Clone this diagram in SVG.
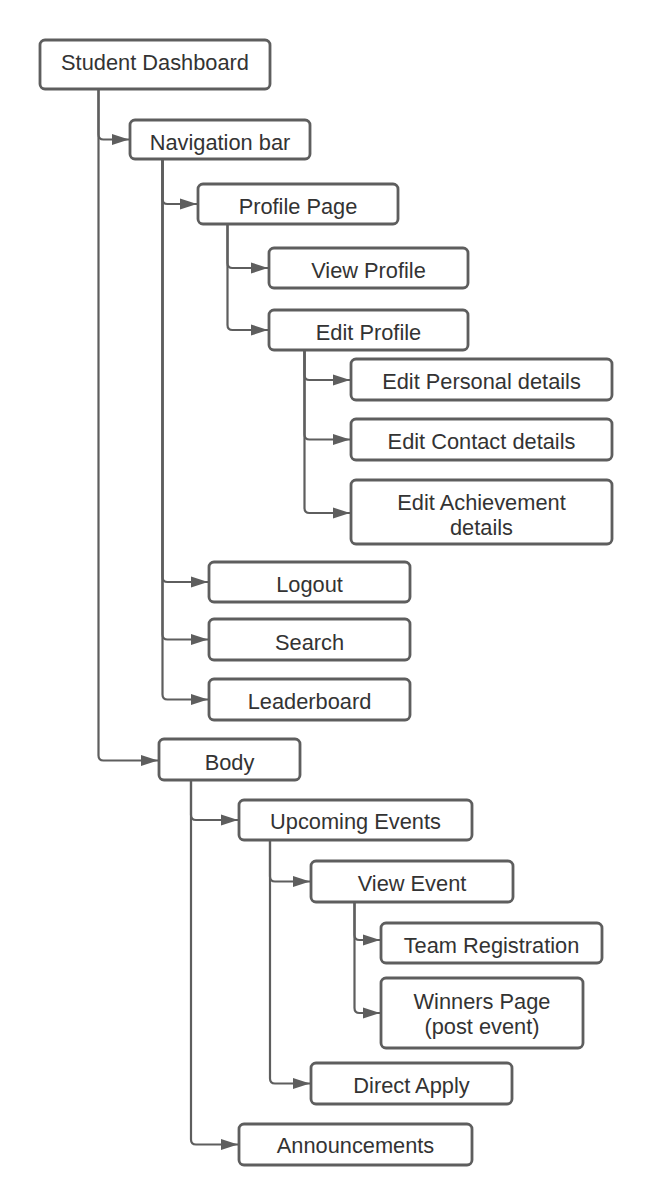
<svg xmlns="http://www.w3.org/2000/svg" width="652" height="1204" viewBox="0 0 652 1204">
<style>
.n rect{fill:#fff;stroke:#5e5e5e;stroke-width:2.8}
.n text{font-family:"Liberation Sans",Arial,sans-serif;font-size:21.8px;fill:#333;text-anchor:middle}
#connectors path{fill:none;stroke:#5e5e5e;stroke-width:2.2;marker-end:url(#ah)}
</style>
<defs>
<marker id="ah" markerUnits="userSpaceOnUse" markerWidth="17" markerHeight="12" refX="17" refY="6" orient="auto">
<path d="M0,0.5 L17,6 L0,11.5 z" fill="#5e5e5e"/>
</marker>
</defs>
<rect width="652" height="1204" fill="#fff"/>
<g id="connectors">
<path d="M98.5,89 V134.5 Q98.5,139.5 103.5,139.5 H129"/>
<path d="M98.5,89 V755.5 Q98.5,760.5 103.5,760.5 H158"/>
<path d="M162.5,159 V199 Q162.5,204 167.5,204 H197"/>
<path d="M162.5,159 V577 Q162.5,582 167.5,582 H208"/>
<path d="M162.5,159 V634.5 Q162.5,639.5 167.5,639.5 H208"/>
<path d="M162.5,159 V694.5 Q162.5,699.5 167.5,699.5 H208"/>
<path d="M227.5,224 V263 Q227.5,268 232.5,268 H268"/>
<path d="M227.5,224 V325 Q227.5,330 232.5,330 H268"/>
<path d="M304.5,350 V375 Q304.5,380 309.5,380 H350"/>
<path d="M304.5,350 V434.5 Q304.5,439.5 309.5,439.5 H350"/>
<path d="M304.5,350 V508 Q304.5,513 309.5,513 H350"/>
<path d="M191,780 V815 Q191,820 196,820 H238"/>
<path d="M191,780 V1139.5 Q191,1144.5 196,1144.5 H238"/>
<path d="M270,840 V876.5 Q270,881.5 275,881.5 H310"/>
<path d="M270,840 V1078.5 Q270,1083.5 275,1083.5 H310"/>
<path d="M354.5,902 V935 Q354.5,940 359.5,940 H380"/>
<path d="M354.5,902 V1008 Q354.5,1013 359.5,1013 H380"/>
</g>
<g id="student-dashboard" class="n"><rect x="40" y="40" width="230" height="49" rx="5"/><text x="155" y="70">Student Dashboard</text></g>
<g id="navigation-bar" class="n"><rect x="130" y="120" width="180" height="39" rx="5"/><text x="220" y="150">Navigation bar</text></g>
<g id="profile-page" class="n"><rect x="198" y="184" width="200" height="40" rx="5"/><text x="298" y="214">Profile Page</text></g>
<g id="view-profile" class="n"><rect x="269" y="248" width="199" height="40" rx="5"/><text x="368.5" y="278">View Profile</text></g>
<g id="edit-profile" class="n"><rect x="269" y="310" width="199" height="40" rx="5"/><text x="368.5" y="340">Edit Profile</text></g>
<g id="edit-personal" class="n"><rect x="351" y="359" width="261" height="41" rx="5"/><text x="481.5" y="389">Edit Personal details</text></g>
<g id="edit-contact" class="n"><rect x="351" y="419" width="261" height="41" rx="5"/><text x="481.5" y="449">Edit Contact details</text></g>
<g id="edit-achievement" class="n"><rect x="351" y="480" width="261" height="64" rx="5"/><text x="481.5" y="510">Edit Achievement</text><text x="481.5" y="535">details</text></g>
<g id="logout" class="n"><rect x="209" y="562" width="201" height="40" rx="5"/><text x="309.5" y="592">Logout</text></g>
<g id="search" class="n"><rect x="209" y="619" width="201" height="41" rx="5"/><text x="309.5" y="650">Search</text></g>
<g id="leaderboard" class="n"><rect x="209" y="679" width="201" height="41" rx="5"/><text x="309.5" y="709">Leaderboard</text></g>
<g id="body" class="n"><rect x="159" y="739" width="141" height="41" rx="5"/><text x="229.5" y="770">Body</text></g>
<g id="upcoming-events" class="n"><rect x="239" y="800" width="233" height="40" rx="5"/><text x="355.5" y="829">Upcoming Events</text></g>
<g id="view-event" class="n"><rect x="311" y="861" width="202" height="41" rx="5"/><text x="412" y="891">View Event</text></g>
<g id="team-registration" class="n"><rect x="381" y="923" width="221" height="40" rx="5"/><text x="491.5" y="953">Team Registration</text></g>
<g id="winners-page" class="n"><rect x="381" y="978" width="202" height="70" rx="5"/><text x="482" y="1009">Winners Page</text><text x="482" y="1034">(post event)</text></g>
<g id="direct-apply" class="n"><rect x="311" y="1063" width="201" height="41" rx="5"/><text x="411.5" y="1093">Direct Apply</text></g>
<g id="announcements" class="n"><rect x="239" y="1124" width="233" height="41" rx="5"/><text x="355.5" y="1153">Announcements</text></g>
</svg>
